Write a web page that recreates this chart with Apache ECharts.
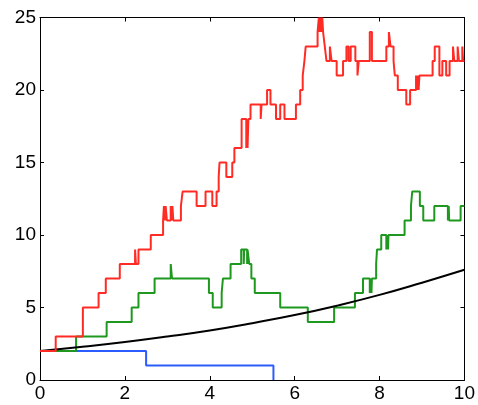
<!DOCTYPE html>
<html>
<head>
<meta charset="utf-8">
<script src="https://cdn.jsdelivr.net/npm/echarts@6/dist/echarts.min.js"></script>
<style>
  html, body { margin: 0; padding: 0; background: #fff; }
  #chart { width: 478px; height: 405px; }
</style>
</head>
<body>
<div id="chart"></div>
<script>
// Axis ticks
const xTicks = [0, 2, 4, 6, 8, 10];
const yTicks = [0, 5, 10, 15, 20, 25];

// Step series: each pair is [time at which the level changes, new level]
const redSteps = [
  [0, 2], [0.37, 3], [1.01, 5], [1.38, 6], [1.55, 7], [1.88, 8],
  [2.24, 9], [2.26, 8], [2.32, 9], [2.61, 10], [2.90, 11],
  [2.92, 12], [2.94, 11], [2.96, 12], [2.99, 11], [3.08, 12], [3.10, 11], [3.12, 12], [3.14, 11],
  [3.32, 12], [3.36, 13], [3.69, 12], [3.90, 13], [4.06, 12], [4.16, 13], [4.21, 14], [4.23, 15],
  [4.39, 14], [4.53, 15], [4.58, 16], [4.75, 18],
  [4.86, 16], [4.87, 18], [4.89, 16], [4.91, 18], [4.96, 19],
  [5.20, 18], [5.22, 19], [5.35, 20], [5.43, 19], [5.56, 18], [5.66, 19], [5.76, 18], [6.03, 19],
  [6.13, 20], [6.19, 21], [6.23, 22], [6.26, 23], [6.54, 24],
  [6.57, 25], [6.59, 24], [6.61, 25], [6.63, 24], [6.65, 25], [6.67, 24],
  [6.71, 23], [6.75, 22], [6.83, 23], [6.87, 22], [6.99, 21], [7.14, 22], [7.22, 23], [7.27, 22],
  [7.32, 23], [7.43, 22], [7.48, 21], [7.51, 22], [7.77, 24], [7.82, 22],
  [8.16, 23], [8.22, 24], [8.26, 23], [8.33, 22], [8.36, 21], [8.43, 20], [8.63, 19], [8.72, 20],
  [8.86, 21], [8.88, 20], [8.90, 21], [8.92, 20], [8.94, 21],
  [9.25, 22], [9.30, 23], [9.41, 21], [9.48, 22], [9.57, 21], [9.65, 22],
  [9.73, 23], [9.76, 22], [9.84, 23], [9.87, 22], [9.95, 23], [9.97, 22], [10, 22]
];

const greenSteps = [
  [0, 2], [0.85, 3], [1.57, 4], [2.16, 5], [2.32, 6], [2.70, 7], [3.08, 8], [3.11, 7],
  [3.98, 6], [4.07, 5], [4.28, 6], [4.31, 7], [4.49, 8], [4.74, 9],
  [4.80, 8], [4.81, 9], [4.88, 8], [4.89, 9], [4.93, 8], [4.98, 7], [5.06, 6],
  [5.66, 5], [6.31, 4], [6.93, 5], [7.42, 6], [7.61, 7],
  [7.77, 6], [7.79, 7], [7.81, 6], [7.82, 7], [7.92, 8], [7.94, 9], [8.04, 10],
  [8.16, 9], [8.18, 10], [8.20, 9], [8.21, 10], [8.59, 11], [8.74, 12], [8.77, 13],
  [8.95, 12], [9.03, 11], [9.29, 12], [9.61, 11], [9.63, 12], [9.64, 11], [9.91, 12], [10, 12]
];

const blueSteps = [[0, 2], [2.5, 1], [5.5, 0]];

// Mean curve
const meanX = [0, 1, 2, 3, 4, 5, 6, 7, 8, 9, 10];
const meanY = [2, 2.29, 2.62, 3.0, 3.42, 3.92, 4.48, 5.13, 5.87, 6.71, 7.6];

const FONT = "'Liberation Sans', Arial, Helvetica, sans-serif";

const chart = echarts.init(document.getElementById('chart'), null, { renderer: 'canvas' });

function axisBase(extra) {
  return Object.assign({
    type: 'value',
    axisLine: { show: true, onZero: false, lineStyle: { color: '#000', width: 1 } },
    axisTick: { show: true, inside: true, length: 4, lineStyle: { color: '#000', width: 1 } },
    splitLine: { show: false },
    axisLabel: { show: false }
  }, extra);
}

const stepLine = (data, color, z) => ({
  type: 'line',
  step: 'end',
  data: data,
  showSymbol: false,
  symbol: 'none',
  z: z,
  lineStyle: { color: color, width: 2 },
  animation: false
});

chart.setOption({
  animation: false,
  backgroundColor: '#fff',
  grid: { left: 40, right: 11, top: 17.5, bottom: 25, containLabel: false },
  xAxis: [
    axisBase({
      position: 'bottom', min: xTicks[0], max: xTicks[xTicks.length - 1], interval: 2,
      axisLabel: { show: true, color: '#000', fontSize: 19, fontFamily: FONT, margin: 4 }
    }),
    axisBase({ position: 'top', min: xTicks[0], max: xTicks[xTicks.length - 1], interval: 2 })
  ],
  yAxis: [
    axisBase({
      position: 'left', min: yTicks[0], max: yTicks[yTicks.length - 1], interval: 5,
      axisLabel: { show: true, color: '#000', fontSize: 19, fontFamily: FONT, margin: 4 }
    }),
    axisBase({ position: 'right', min: yTicks[0], max: yTicks[yTicks.length - 1], interval: 5 })
  ],
  series: [
    stepLine(blueSteps, '#2a5cff', 2),
    stepLine(greenSteps, '#1e981e', 3),
    {
      type: 'line',
      data: meanX.map((x, i) => [x, meanY[i]]),
      smooth: true,
      showSymbol: false,
      symbol: 'none',
      z: 4,
      lineStyle: { color: '#000', width: 2 },
      animation: false
    },
    stepLine(redSteps, '#ff2b24', 5)
  ]
});
</script>
</body>
</html>
